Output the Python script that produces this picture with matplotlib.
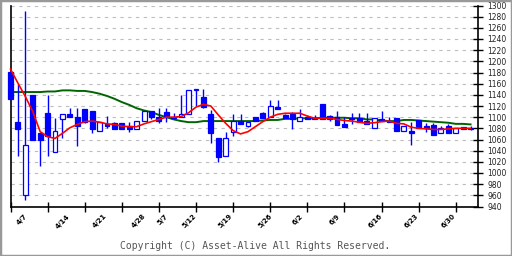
import matplotlib
matplotlib.use("Agg")
import matplotlib.pyplot as plt
from matplotlib.patches import Rectangle
import numpy as np

# ---- data ----
opens = [1181, 1091, 960, 1140, 1072, 1107, 1037, 1096, 1106, 1100,
         1115, 1111, 1075, 1088, 1089, 1089, 1084, 1078, 1093, 1111,
         1100, 1109, 1101, 1100, 1105, 1148, 1137, 1105, 1062, 1031,
         1073, 1094, 1085, 1101, 1107, 1100, 1118, 1103, 1105, 1093,
         1100, 1098, 1124, 1102, 1100, 1088, 1099, 1099, 1093, 1081,
         1097, 1094, 1098, 1076, 1076, 1095, 1085, 1086, 1072, 1085,
         1072, 1078, 1081]
highs = [1181, 1160, 1291, 1140, 1072, 1140, 1099, 1105, 1117, 1117,
         1115, 1111, 1091, 1102, 1091, 1089, 1091, 1093, 1111, 1111,
         1116, 1116, 1107, 1140, 1148, 1150, 1150, 1112, 1062, 1073,
         1105, 1105, 1091, 1101, 1109, 1131, 1131, 1105, 1109, 1115,
         1103, 1104, 1124, 1104, 1111, 1100, 1107, 1107, 1107, 1099,
         1111, 1100, 1098, 1084, 1092, 1095, 1090, 1090, 1084, 1087,
         1081, 1083, 1084]
lows = [1133, 1031, 952, 1060, 1013, 1031, 1037, 1063, 1101, 1049,
        1089, 1072, 1075, 1080, 1079, 1079, 1073, 1078, 1093, 1096,
        1089, 1091, 1096, 1100, 1105, 1120, 1116, 1053, 1020, 1031,
        1067, 1087, 1083, 1093, 1098, 1100, 1114, 1099, 1079, 1093,
        1096, 1096, 1096, 1094, 1086, 1083, 1087, 1092, 1087, 1081,
        1093, 1092, 1076, 1076, 1051, 1081, 1073, 1068, 1072, 1072,
        1072, 1078, 1077]
closes = [1133, 1079, 1050, 1060, 1060, 1067, 1075, 1105, 1101, 1084,
          1091, 1079, 1091, 1085, 1079, 1079, 1078, 1093, 1111, 1100,
          1093, 1100, 1098, 1105, 1148, 1150, 1118, 1072, 1029, 1062,
          1094, 1087, 1091, 1093, 1098, 1120, 1115, 1099, 1096, 1100,
          1096, 1096, 1096, 1097, 1086, 1083, 1096, 1092, 1088, 1098,
          1093, 1092, 1076, 1084, 1071, 1081, 1080, 1068, 1081, 1072,
          1081, 1083, 1079]
ma_short = [1186, 1161, 1137, 1110, 1074, 1065, 1062, 1071, 1081, 1087,
            1092, 1093, 1091, 1088, 1087, 1084, 1083, 1083, 1088, 1092,
            1096, 1100, 1100, 1101, 1108, 1118, 1123, 1120, 1104, 1089,
            1076, 1070, 1074, 1083, 1092, 1100, 1105, 1107, 1107, 1107,
            1102, 1098, 1098, 1098, 1096, 1094, 1093, 1091, 1089, 1090,
            1092, 1093, 1089, 1088, 1082, 1080, 1079, 1078, 1078, 1079,
            1080, 1080, 1080]
ma_long = [1145, 1145, 1145, 1145, 1145, 1146, 1146, 1148, 1148, 1147,
           1147, 1145, 1142, 1138, 1133, 1127, 1122, 1116, 1112, 1109,
           1104, 1100, 1096, 1093, 1091, 1091, 1093, 1093, 1093, 1093,
           1093, 1093, 1093, 1093, 1094, 1095, 1095, 1097, 1097, 1098,
           1098, 1098, 1099, 1099, 1099, 1099, 1098, 1098, 1096, 1096,
           1094, 1093, 1093, 1095, 1095, 1094, 1093, 1092, 1091, 1090,
           1088, 1088, 1087]
tick_labels = ["4/7", "4/14", "4/21", "4/28", "5/7", "5/12", "5/19",
               "5/26", "6/2", "6/9", "6/16", "6/23", "6/30"]
y_ticks = list(range(940, 1301, 20))

BLUE = "#0000ff"
fig = plt.figure(figsize=(5.12, 2.56), dpi=100)
fig.patch.set_facecolor("white")
ax = fig.add_axes([10.5 / 512, 1 - 206.5 / 256, (478 - 10.5) / 512, 201 / 256])
ax.set_facecolor("white")

n = len(opens)
x = np.arange(n)
ax.set_xlim(0, 63)
ax.set_ylim(940, 1300)

# grid
for yv in y_ticks[1:]:
    ax.axhline(yv, color="#bdbdbd", lw=0.8, ls=(0, (3, 4)), zorder=0)

ax.plot(x, ma_long, color="#006400", lw=1.4, zorder=2, clip_on=False)

w = 0.66
ax.vlines(x, lows, highs, color=BLUE, lw=1.0, zorder=3, clip_on=False)
for i in range(n):
    o, c = opens[i], closes[i]
    lo, hi = min(o, c), max(o, c)
    filled = c < o
    r = Rectangle((i - w / 2, lo), w, max(hi - lo, 0.5),
                  facecolor=BLUE if filled else "white",
                  edgecolor=BLUE, lw=0.9, zorder=4, clip_on=False)
    ax.add_patch(r)

ax.plot(x, ma_short, color="#ff0000", lw=1.2, zorder=5, clip_on=False)

# spines
ax.spines["top"].set_visible(False)
for s in ["left", "bottom", "right"]:
    ax.spines[s].set_color("black")
    ax.spines[s].set_linewidth(1.2)

ax.yaxis.tick_right()
ax.set_yticks(y_ticks)
ax.set_yticklabels([str(v) for v in y_ticks], fontsize=5.5, color="#222222")
ax.tick_params(axis="y", direction="inout", length=7, width=1, pad=3)

xt = list(range(0, 61, 5))
ax.set_xticks(xt)
ax.set_xticklabels([])
ax.tick_params(axis="x", direction="inout", length=7, width=1)

shifts = [18, 23, 23, 25, 10, 1, 0, 3, -3, -3, 2, 1, 1]
for t, lab, dx in zip(xt, tick_labels, shifts):
    ax.annotate(lab, xy=(t, 0), xycoords=("data", "axes fraction"),
                xytext=(dx, -6.5), textcoords="offset pixels",
                rotation=45, ha="right", va="top", fontsize=5,
                fontweight="bold", annotation_clip=False)

fig.text(255 / 512, 1 - 246 / 256,
         "Copyright (C) Asset-Alive All Rights Reserved.",
         ha="center", va="center", fontsize=7, color="#555555",
         family="DejaVu Sans Mono")

fig.patches.append(Rectangle((0, 0), 1, 1, transform=fig.transFigure,
                             fill=False, edgecolor="#999999", lw=2.5))

fig.savefig("out.png", dpi=100, facecolor="white")
